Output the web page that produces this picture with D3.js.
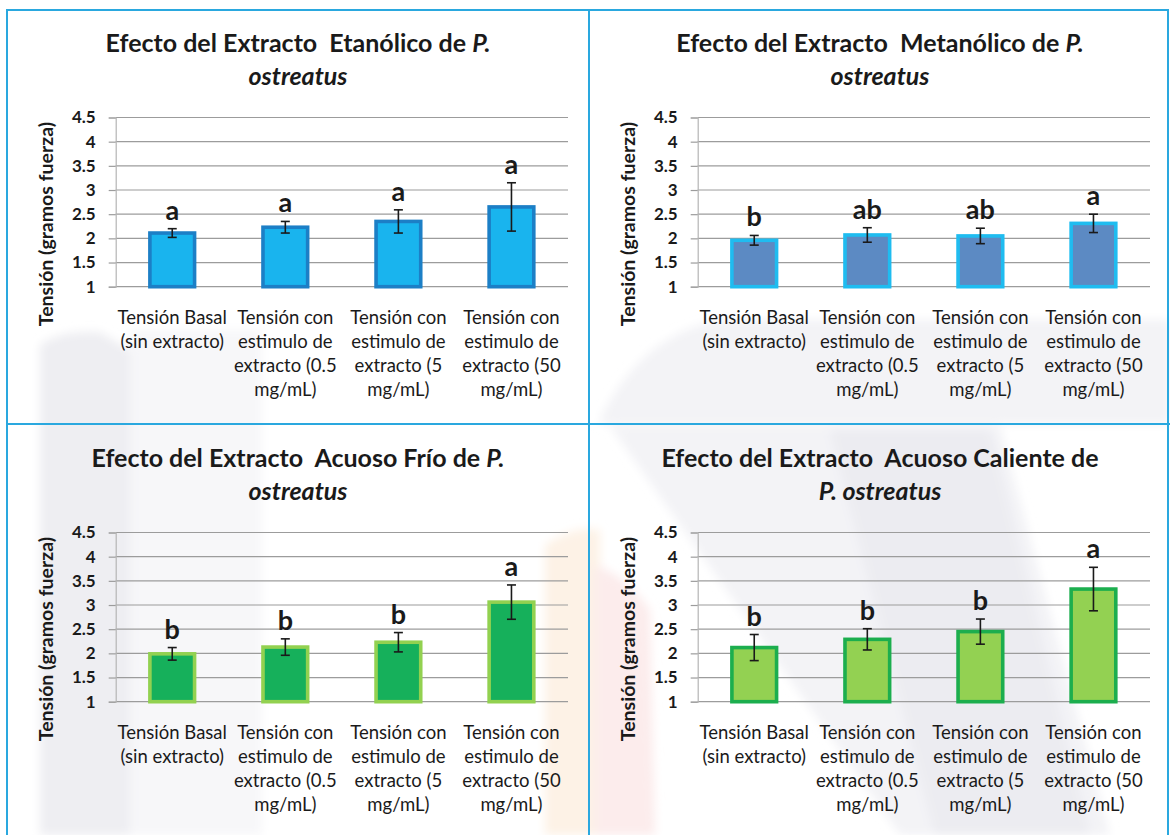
<!DOCTYPE html>
<html>
<head>
<meta charset="utf-8">
<script src="https://cdn.jsdelivr.net/npm/d3@7"></script>
<style>
  html, body { margin: 0; padding: 0; background: #ffffff; }
  svg { display: block; }
  text { font-family: Lato, "Open Sans", "Noto Sans", sans-serif; fill: #1a1a1a; }
</style>
</head>
<body>
<svg id="chart" width="1170" height="835"></svg>
<script>
// ---- data -------------------------------------------------------------
const categories = [
  ["Tensión Basal", "(sin extracto)"],
  ["Tensión con", "estimulo de", "extracto (0.5", "mg/mL)"],
  ["Tensión con", "estimulo de", "extracto (5", "mg/mL)"],
  ["Tensión con", "estimulo de", "extracto (50", "mg/mL)"]
];
const yTicks = [1, 1.5, 2, 2.5, 3, 3.5, 4, 4.5];
const yAxisTitle = "Tensión (gramos fuerza)";

const etanolicoMeans   = [2.11, 2.23, 2.35, 2.65];
const etanolicoErrors  = [0.09, 0.12, 0.24, 0.50];
const etanolicoLetters = ["a", "a", "a", "a"];

const metanolicoMeans   = [1.96, 2.07, 2.05, 2.31];
const metanolicoErrors  = [0.10, 0.15, 0.16, 0.19];
const metanolicoLetters = ["b", "ab", "ab", "a"];

const frioMeans   = [1.99, 2.13, 2.23, 3.06];
const frioErrors  = [0.13, 0.17, 0.20, 0.355];
const frioLetters = ["b", "b", "b", "a"];

const calienteMeans   = [2.12, 2.29, 2.45, 3.33];
const calienteErrors  = [0.27, 0.22, 0.26, 0.45];
const calienteLetters = ["b", "b", "b", "a"];

// title lines: each line is a list of [text, italic]
const etanolicoTitle  = [[["Efecto del Extracto  Etanólico de ", false], ["P.", true]], [["ostreatus", true]]];
const metanolicoTitle = [[["Efecto del Extracto  Metanólico de ", false], ["P.", true]], [["ostreatus", true]]];
const frioTitle       = [[["Efecto del Extracto  Acuoso Frío de ", false], ["P.", true]], [["ostreatus", true]]];
const calienteTitle   = [[["Efecto del Extracto  Acuoso Caliente de", false]], [["P. ostreatus", true]]];

// ---- panels -------------------------------------------------------------
const panels = [
  { col: 0, row: 0, title: etanolicoTitle,  means: etanolicoMeans,  errors: etanolicoErrors,  letters: etanolicoLetters,  fill: "#19b4ee", stroke: "#1c7fc6" },
  { col: 1, row: 0, title: metanolicoTitle, means: metanolicoMeans, errors: metanolicoErrors, letters: metanolicoLetters, fill: "#5c8ac3", stroke: "#1fbcf0" },
  { col: 0, row: 1, title: frioTitle,       means: frioMeans,       errors: frioErrors,       letters: frioLetters,       fill: "#16b05b", stroke: "#92d150" },
  { col: 1, row: 1, title: calienteTitle,   means: calienteMeans,   errors: calienteErrors,   letters: calienteLetters,   fill: "#93d152", stroke: "#1cae4e" }
];

const svg = d3.select("#chart");

// faint, soft background watermark
const defs = svg.append("defs");
defs.append("filter").attr("id", "soft").attr("x", "-20%").attr("y", "-20%").attr("width", "140%").attr("height", "140%")
  .append("feGaussianBlur").attr("stdDeviation", 5);
const wm = svg.append("g").attr("class", "watermark").attr("filter", "url(#soft)");
wm.append("path").attr("d", "M40,835 L40,345 Q60,330 100,332 L130,350 L130,835 Z").attr("fill", "#eeeef2");
wm.append("rect").attr("x", 130).attr("y", 330).attr("width", 132).attr("height", 505).attr("fill", "#f7f7f9");
wm.append("path")
  .attr("d", "M600,420 Q640,335 720,320 L1170,320 L1170,424 L600,424 Z")
  .attr("fill", "#f3f3f6");
wm.append("path")
  .attr("d", "M610,426 L1000,426 L1110,835 L900,835 Z")
  .attr("fill", "#f3f3f6");
wm.append("path")
  .attr("d", "M830,430 L990,430 L1090,835 L935,835 Z")
  .attr("fill", "#ececf1");
wm.append("path")
  .attr("d", "M545,545 Q575,525 600,530 L600,835 L545,835 Z")
  .attr("fill", "#fdf2e6");
wm.append("path")
  .attr("d", "M595,565 Q625,575 650,610 L655,835 L595,835 Z")
  .attr("fill", "#fcecec");

// panel frame
const frameColor = "#2aa8df";
const colX = [7, 589];
const rowY = [10, 425];
const frame = svg.append("g").attr("fill", "none").attr("stroke", frameColor).attr("stroke-width", 2);
frame.append("rect").attr("x", 7).attr("y", 10).attr("width", 1161).attr("height", 840);
frame.append("line").attr("x1", 589).attr("x2", 589).attr("y1", 10).attr("y2", 835);
frame.append("line").attr("x1", 7).attr("x2", 1170).attr("y1", 424).attr("y2", 424);

// layout inside a panel (panel-relative coordinates)
const panelW = 582;
const plotLeft = 108.7, plotRight = 561;
const plotTop = 107.5, plotBottom = 276.7;

panels.forEach(p => {
  const g = svg.append("g").attr("transform", `translate(${colX[p.col]},${rowY[p.row]})`);

  const x = d3.scaleBand().domain(d3.range(categories.length)).range([plotLeft, plotRight]).padding(0);
  const y = d3.scaleLinear().domain([1, 4.5]).range([plotBottom, plotTop]);
  const barW = x.bandwidth() * 0.395;

  // title
  const title = g.append("text")
    .attr("text-anchor", "middle")
    .attr("font-weight", "bold")
    .attr("font-size", 25)
    .style("white-space", "pre");
  p.title.forEach((line, i) => {
    line.forEach((seg, j) => {
      const ts = title.append("tspan").text(seg[0]).attr("font-style", seg[1] ? "italic" : "normal");
      if (j === 0) ts.attr("x", panelW / 2).attr("y", 42 + i * 33);
    });
  });

  // gridlines
  g.append("g")
    .selectAll("line")
    .data(yTicks)
    .join("line")
    .attr("x1", plotLeft).attr("x2", plotRight)
    .attr("y1", d => y(d)).attr("y2", d => y(d))
    .attr("stroke", "#9c9c9c").attr("stroke-width", 1.2);

  // y axis with outside ticks
  const axis = g.append("g")
    .attr("transform", `translate(${plotLeft},0)`)
    .call(d3.axisLeft(y).tickValues(yTicks).tickSize(7).tickPadding(13).tickFormat(d3.format("")));
  axis.select(".domain").attr("stroke", "#b5b5b5").attr("stroke-width", 1.2);
  axis.selectAll(".tick line").attr("stroke", "#9c9c9c").attr("stroke-width", 1.2);
  axis.selectAll(".tick text")
    .attr("font-family", "Lato, sans-serif")
    .attr("font-size", 17)
    .attr("font-weight", "bold")
    .attr("fill", "#1a1a1a");

  // axis title
  g.append("text")
    .attr("transform", "translate(38,214) rotate(-90)")
    .attr("text-anchor", "middle")
    .attr("dominant-baseline", "central")
    .attr("font-size", 19.5)
    .attr("font-weight", "bold")
    .text(yAxisTitle);

  const data = p.means.map((m, i) => ({ i, m, e: p.errors[i], letter: p.letters[i] }));
  const cx = d => x(d.i) + x.bandwidth() / 2;

  // bars
  g.append("g")
    .selectAll("rect")
    .data(data)
    .join("rect")
    .attr("x", d => cx(d) - barW / 2)
    .attr("y", d => y(d.m))
    .attr("width", barW)
    .attr("height", d => y(1) - y(d.m))
    .attr("fill", p.fill)
    .attr("stroke", p.stroke)
    .attr("stroke-width", 3.6);

  // error bars
  const eb = g.append("g").attr("stroke", "#1a1a1a").attr("stroke-width", 1.6);
  eb.selectAll("line.v").data(data).join("line").attr("class", "v")
    .attr("x1", cx).attr("x2", cx)
    .attr("y1", d => y(d.m - d.e)).attr("y2", d => y(d.m + d.e));
  eb.selectAll("line.t").data(data).join("line").attr("class", "t")
    .attr("x1", d => cx(d) - 4.5).attr("x2", d => cx(d) + 4.5)
    .attr("y1", d => y(d.m + d.e)).attr("y2", d => y(d.m + d.e));
  eb.selectAll("line.b").data(data).join("line").attr("class", "b")
    .attr("x1", d => cx(d) - 4.5).attr("x2", d => cx(d) + 4.5)
    .attr("y1", d => y(d.m - d.e)).attr("y2", d => y(d.m - d.e));

  // significance letters
  g.append("g")
    .selectAll("text")
    .data(data)
    .join("text")
    .attr("x", cx)
    .attr("y", d => y(d.m + d.e) - 9)
    .attr("text-anchor", "middle")
    .attr("font-size", 27)
    .attr("font-weight", "bold")
    .text(d => d.letter);

  // category labels
  const cat = g.append("g")
    .selectAll("text")
    .data(categories)
    .join("text")
    .attr("text-anchor", "middle")
    .attr("font-size", 18.5);
  cat.each(function (lines, i) {
    const t = d3.select(this);
    lines.forEach((ln, k) => {
      t.append("tspan")
        .attr("x", x(i) + x.bandwidth() / 2)
        .attr("y", 314 + k * 24)
        .text(ln);
    });
  });
});
</script>
</body>
</html>
